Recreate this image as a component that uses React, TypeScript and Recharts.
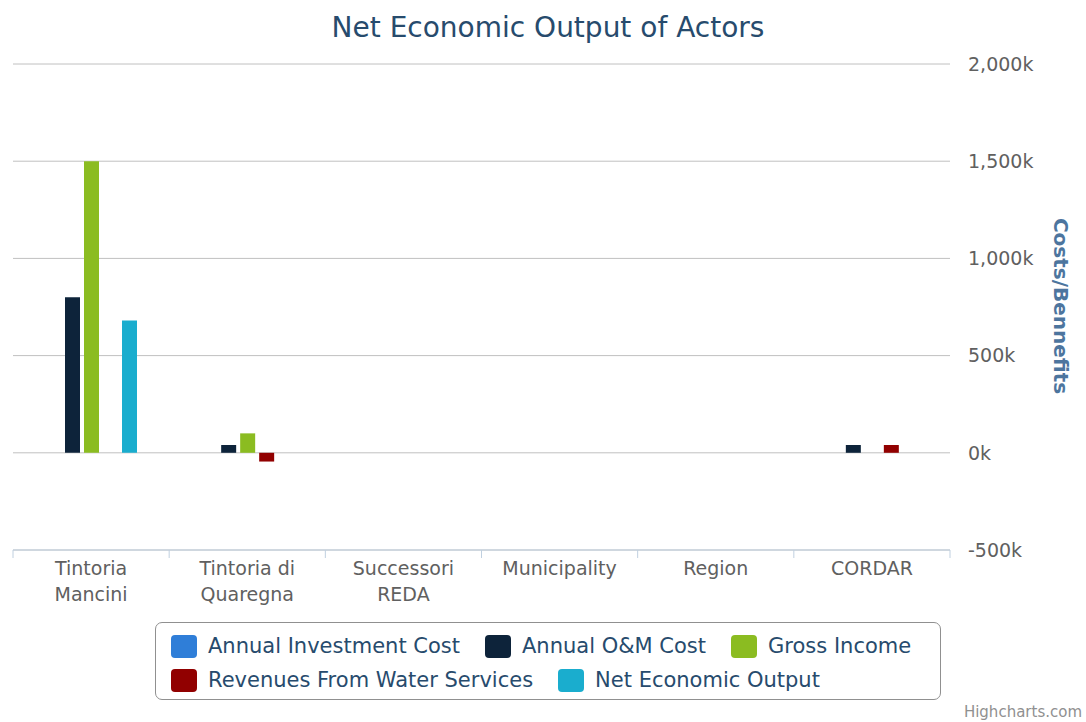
import React from 'react';
import { BarChart, Bar, XAxis, YAxis, CartesianGrid, Legend } from 'recharts';

const actors = [
  'Tintoria\nMancini',
  'Tintoria di\nQuaregna',
  'Successori\nREDA',
  'Municipality',
  'Region',
  'CORDAR',
];

const investmentCost = [0, 0, 0, 0, 0, 0];
const omCost = [800000, 40000, 0, 0, 0, 40000];
const grossIncome = [1500000, 100000, 0, 0, 0, 0];
const waterRevenues = [0, -45000, 0, 0, 0, 40000];
const netOutput = [680000, 0, 0, 0, 0, 0];

const yTicks = [-500000, 0, 500000, 1000000, 1500000, 2000000];

const series = [
  { key: 'investment', name: 'Annual Investment Cost', color: '#2f7ed8' },
  { key: 'om', name: 'Annual O&M Cost', color: '#0d233a' },
  { key: 'gross', name: 'Gross Income', color: '#8bbc21' },
  { key: 'revenues', name: 'Revenues From Water Services', color: '#910000' },
  { key: 'net', name: 'Net Economic Output', color: '#1aadce' },
];

const data = actors.map((name, i) => ({
  name,
  investment: investmentCost[i],
  om: omCost[i],
  gross: grossIncome[i],
  revenues: waterRevenues[i],
  net: netOutput[i],
}));

const FONT = '"DejaVu Sans", Verdana, sans-serif';
const W = 1086;
const H = 722;
const M = { top: 64, right: 26, left: 13, bottom: 112 };
const Y_AXIS_W = 110;
const band = (W - M.left - M.right - Y_AXIS_W) / actors.length;

const fmtK = (v: number) => `${(v / 1000).toLocaleString('en-US')}k`;

// x labels on two lines, ticks at category edges like highcharts
function ActorTick(props: any) {
  const { x, y, payload, index } = props;
  const lines = String(payload.value).split('\n');
  const axisY = y - 8;
  return (
    <g>
      <line x1={x - band / 2} x2={x - band / 2} y1={axisY} y2={axisY + 8} stroke="#C0D0E0" />
      {index === actors.length - 1 && (
        <line x1={x + band / 2} x2={x + band / 2} y1={axisY} y2={axisY + 8} stroke="#C0D0E0" />
      )}
      <text x={x} y={y} textAnchor="middle" fill="#606060" fontSize={19} fontFamily={FONT}>
        {lines.map((l, i) => (
          <tspan key={i} x={x} dy={i === 0 ? 17 : 26}>
            {l}
          </tspan>
        ))}
      </text>
    </g>
  );
}

function LegendBox() {
  return (
    <div
      style={{
        width: 786,
        height: 78,
        boxSizing: 'border-box',
        border: '1px solid #909090',
        borderRadius: 7,
        padding: '8px 0 0 15px',
        display: 'flex',
        flexWrap: 'wrap',
        fontFamily: FONT,
        fontSize: 21,
        color: '#274b6d',
      }}
    >
      {series.map((s) => (
        <div key={s.key} style={{ display: 'flex', alignItems: 'center', marginRight: 25, height: 30 }}>
          <span
            style={{
              display: 'inline-block',
              width: 26,
              height: 23,
              borderRadius: 4,
              background: s.color,
              marginRight: 11,
            }}
          />
          <span>{s.name}</span>
        </div>
      ))}
    </div>
  );
}

export default function App() {
  return (
    <div style={{ position: 'absolute', left: 0, top: 0, width: W, height: H, background: '#fff' }}>
      <div
        style={{
          position: 'absolute',
          top: 11,
          left: 5,
          width: W,
          textAlign: 'center',
          fontFamily: FONT,
          fontSize: 28,
          color: '#274b6d',
        }}
      >
        Net Economic Output of Actors
      </div>
      <BarChart width={W} height={H} data={data} margin={M} barSize={15} barGap={4}>
        <CartesianGrid horizontal vertical={false} stroke="#C0C0C0" />
        <XAxis
          dataKey="name"
          interval={0}
          height={60}
          axisLine={{ stroke: '#C0D0E0' }}
          tickLine={false}
          tick={<ActorTick />}
        />
        <YAxis
          orientation="right"
          width={Y_AXIS_W}
          domain={[-500000, 2000000]}
          ticks={yTicks}
          tickFormatter={fmtK}
          axisLine={false}
          tickLine={false}
          tickMargin={12}
          tick={{ fill: '#606060', fontSize: 19, fontFamily: FONT }}
          label={{
            content: () => (
              <text
                transform="translate(1054,306) rotate(90)"
                textAnchor="middle"
                fill="#4d759e"
                fontSize={20}
                fontWeight="bold"
                fontFamily={FONT}
              >
                Costs/Bennefits
              </text>
            ),
          }}
        />
        <Legend
          layout="horizontal"
          verticalAlign="middle"
          align="center"
          wrapperStyle={{ left: 155, top: 622, width: 786 }}
          content={() => <LegendBox />}
        />
        {series.map((s) => (
          <Bar key={s.key} dataKey={s.key} name={s.name} fill={s.color} isAnimationActive={false} />
        ))}
      </BarChart>
      <div
        style={{
          position: 'absolute',
          right: 4,
          bottom: 1,
          fontFamily: FONT,
          fontSize: 15,
          color: '#909090',
        }}
      >
        Highcharts.com
      </div>
    </div>
  );
}
